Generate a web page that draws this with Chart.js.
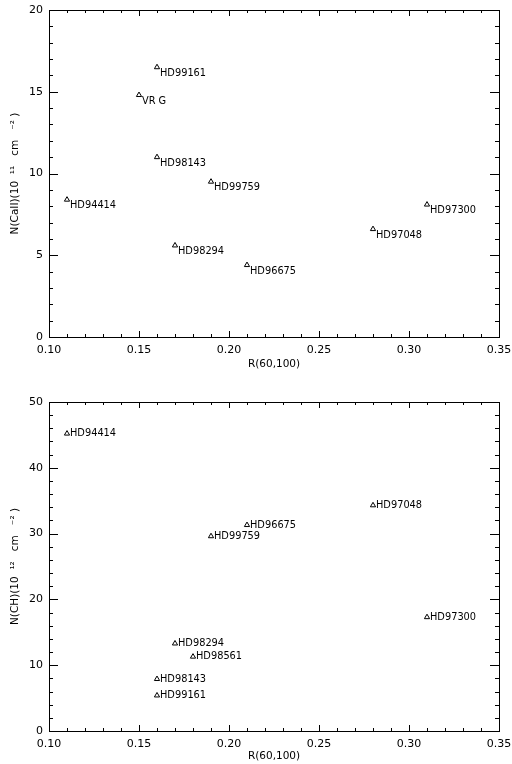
<!DOCTYPE html>
<html lang="en">
<head>
<meta charset="UTF-8">
<title>N(CaII), N(CH) vs R(60,100)</title>
<script src="https://cdn.jsdelivr.net/npm/chart.js"></script>
<style>
    body { margin: 0; background: #fff; }
    canvas { position: absolute; left: 0; }
    #chart1 { top: 0; }
    #chart2 { top: 382px; }
</style>
</head>
<body>
<canvas id="chart1" width="512" height="382"></canvas>
<canvas id="chart2" width="512" height="382"></canvas>
<script>
// top panel: Ca II column density
const caNames = ['HD99161', 'VR G', 'HD98143', 'HD99759', 'HD94414', 'HD98294', 'HD96675', 'HD97048', 'HD97300'];
const caR = [0.16, 0.15, 0.16, 0.19, 0.11, 0.17, 0.21, 0.28, 0.31];
const caN = [16.5, 14.8, 11.0, 9.5, 8.4, 5.6, 4.4, 6.6, 8.1];

// bottom panel: CH column density
const chNames = ['HD94414', 'HD99759', 'HD96675', 'HD97048', 'HD97300', 'HD98294', 'HD98561', 'HD98143', 'HD99161'];
const chR = [0.11, 0.19, 0.21, 0.28, 0.31, 0.17, 0.18, 0.16, 0.16];
const chN = [45.2, 29.6, 31.3, 34.3, 17.3, 13.3, 11.3, 7.9, 5.4];

// tick labels
const xTicks = [0.10, 0.15, 0.20, 0.25, 0.30, 0.35];
const caTicks = [0, 5, 10, 15, 20];
const chTicks = [0, 10, 20, 30, 40, 50];

Chart.defaults.font.family = 'DejaVu Sans';
Chart.defaults.color = '#000';

// IDL-like box with inward ticks on all four sides
const framePlugin = {
    id: 'frame',
    afterDraw(chart, args, o) {
        const { ctx, chartArea: a, scales: { x, y } } = chart;
        ctx.save();
        ctx.strokeStyle = '#000';
        ctx.lineWidth = 1;
        ctx.strokeRect(a.left + 0.5, a.top + 0.5, a.right - a.left, a.bottom - a.top);
        ctx.beginPath();
        // x ticks
        for (let i = 0; i <= o.xCount; i++) {
            const px = Math.round(x.getPixelForValue(x.min + i * o.xMinor)) + 0.5;
            const len = i % o.xEvery === 0 ? 6 : 3;
            ctx.moveTo(px, a.bottom); ctx.lineTo(px, a.bottom - len);
            ctx.moveTo(px, a.top); ctx.lineTo(px, a.top + len);
        }
        // y ticks
        for (let i = 0; i <= o.yCount; i++) {
            const py = Math.round(y.getPixelForValue(y.min + i * o.yMinor)) + 0.5;
            const len = i % o.yEvery === 0 ? 9 : 4;
            ctx.moveTo(a.left, py); ctx.lineTo(a.left + len, py);
            ctx.moveTo(a.right, py); ctx.lineTo(a.right - len, py);
        }
        ctx.stroke();
        ctx.restore();
    }
};

// star names next to each marker
const namePlugin = {
    id: 'names',
    afterDatasetsDraw(chart, args, o) {
        const { ctx } = chart;
        const pts = chart.getDatasetMeta(0).data;
        ctx.save();
        ctx.fillStyle = '#000';
        ctx.font = '9.8px "DejaVu Sans"';
        ctx.textBaseline = 'middle';
        ctx.textAlign = 'left';
        pts.forEach((p, i) => {
            ctx.fillText(o.names[i], p.x + o.dx, p.y + o.dy);
        });
        ctx.restore();
    }
};

function makeChart(id, names, xs, ys, yTicks, yTitle, padTop, xHeight, xTitlePad, yMinor, yEvery, dy) {
    return new Chart(document.getElementById(id), {
        type: 'scatter',
        data: {
            datasets: [{
                data: xs.map((v, i) => ({ x: v, y: ys[i] })),
                pointStyle: 'triangle',
                pointRadius: 3,
                borderWidth: 1,
                borderColor: '#000',
                backgroundColor: 'rgba(0,0,0,0)'
            }]
        },
        options: {
            responsive: false,
            animation: false,
            layout: { padding: { left: 0, right: 13, top: padTop, bottom: 0 } },
            plugins: {
                legend: { display: false },
                tooltip: { enabled: false },
                frame: {
                    xMinor: 0.01, xEvery: 5, xCount: 25,
                    yMinor: yMinor, yEvery: yEvery,
                    yCount: Math.round(yTicks[yTicks.length - 1] / yMinor)
                },
                names: { names: names, dx: 3, dy: dy }
            },
            scales: {
                x: {
                    type: 'linear',
                    min: xTicks[0],
                    max: xTicks[xTicks.length - 1],
                    afterBuildTicks: s => { s.ticks = xTicks.map(v => ({ value: v })); },
                    afterFit: s => {
                        s.height = xHeight;
                        s.paddingLeft = 0; s.paddingRight = 0;
                    },
                    grid: { display: false, drawTicks: false },
                    border: { display: false },
                    ticks: {
                        padding: 7,
                        maxRotation: 0,
                        autoSkip: false,
                        font: { size: 11 },
                        callback: v => v.toFixed(2)
                    },
                    title: {
                        display: true,
                        text: 'R(60,100)',
                        font: { size: 10.5 },
                        padding: { top: 0, bottom: xTitlePad }
                    }
                },
                y: {
                    type: 'linear',
                    min: yTicks[0],
                    max: yTicks[yTicks.length - 1],
                    afterBuildTicks: s => { s.ticks = yTicks.map(v => ({ value: v })); },
                    afterFit: s => {
                        s.width = 49;
                        s.paddingTop = 0; s.paddingBottom = 0;
                    },
                    grid: { display: false, drawTicks: false },
                    border: { display: false },
                    ticks: {
                        padding: 6,
                        font: { size: 11 },
                        callback: v => String(v)
                    },
                    title: {
                        display: true,
                        text: yTitle,
                        font: { size: 10.5 },
                        padding: { top: 9, bottom: 0 }
                    }
                }
            }
        },
        plugins: [framePlugin, namePlugin]
    });
}

makeChart('chart1', caNames, caR, caN, caTicks, 'N(CaII)(10  \u00B9\u00B9   cm   \u207B\u00B2 )', 10, 45, 11, 1, 5, 6);
makeChart('chart2', chNames, chR, chN, chTicks, 'N(CH)(10  \u00B9\u00B2   cm   \u207B\u00B2 )', 20, 33, 1, 2, 5, 0);
</script>
</body>
</html>
